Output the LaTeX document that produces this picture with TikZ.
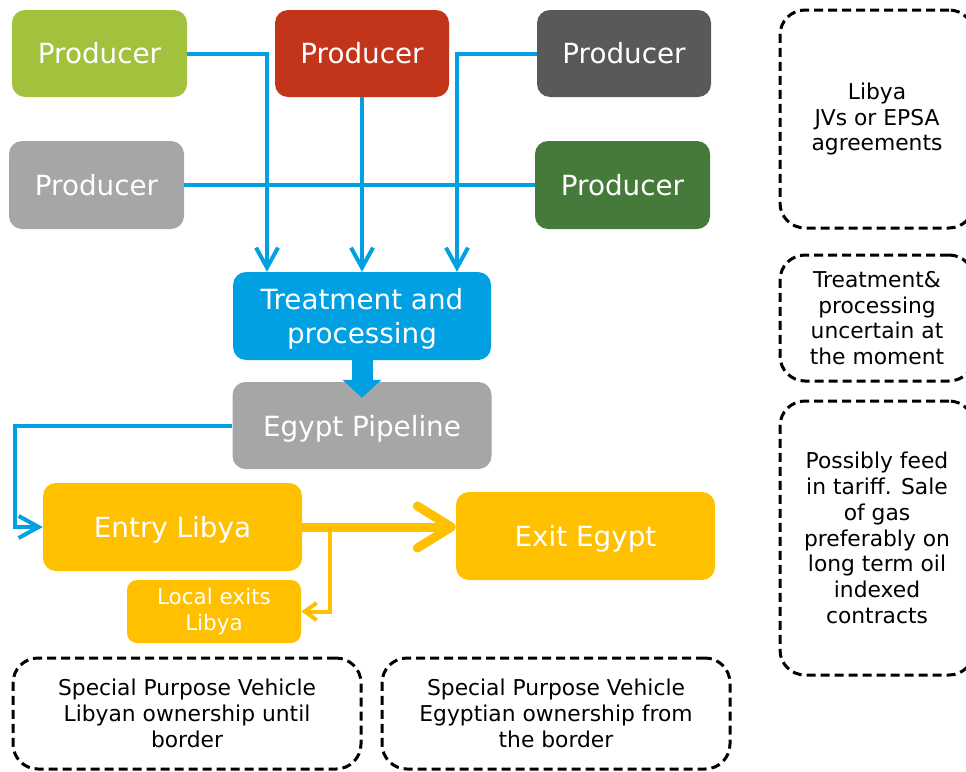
\documentclass[tikz,border=0pt]{standalone}
\usepackage{fontspec}
\setmainfont{DejaVu Sans}
\usetikzlibrary{arrows.meta,calc}

\definecolor{limegreen}{HTML}{A2C13D}
\definecolor{brickred}{HTML}{C3351A}
\definecolor{darkgrey}{HTML}{595959}
\definecolor{lightgrey}{HTML}{A6A6A6}
\definecolor{forestgreen}{HTML}{467A3A}
\definecolor{pipeblue}{HTML}{00A0E3}
\definecolor{amber}{HTML}{FFC000}

\tikzset{
  box/.style={rounded corners=13pt, inner sep=0pt, text=white, align=center,
    font=\fontsize{27.8}{34.5}\selectfont},
  lowtext/.style={text depth=0pt},
  smallbox/.style={box, rounded corners=10pt, font=\fontsize{21.5}{26}\selectfont},
  note/.style={draw=black, line width=3pt, dash pattern=on 9pt off 5pt,
    rounded corners=25pt, inner sep=0pt, align=center,
    font=\fontsize{21.8}{25.8}\selectfont},
  gasline/.style={draw=pipeblue, line width=4pt},
  feed/.style={gasline, -{Straight Barb[length=20pt,width=22pt]}},
  bigflow/.style={draw=pipeblue, line width=21pt,
    -{Triangle[length=18pt,width=38pt]}},
  export/.style={draw=amber, line width=9pt,
    -{Straight Barb[length=34pt,width=42pt,round]}},
  localflow/.style={draw=amber, line width=4pt,
    -{Straight Barb[length=12pt,width=17pt]}},
}

\begin{document}
\begin{tikzpicture}[x=1pt, y=-1pt]
\useasboundingbox (0,0) rectangle (966,771);
\clip (0,0) rectangle (966,771);

% producers
\node[box, fill=limegreen, minimum width=175pt, minimum height=87pt] (p1) at (99.5,53.5) {Producer};
\node[box, fill=brickred, minimum width=174pt, minimum height=87pt] (p2) at (362,53.5) {Producer};
\node[box, fill=darkgrey, minimum width=174pt, minimum height=87pt] (p3) at (624,53.5) {Producer};
\node[box, fill=lightgrey, minimum width=175pt, minimum height=88pt] (p4) at (96.5,185) {Producer};
\node[box, fill=forestgreen, minimum width=175pt, minimum height=88pt] (p5) at (622.5,185) {Producer};

% processing chain
\node[box, lowtext, fill=pipeblue, minimum width=258pt, minimum height=88pt] (treat) at (362,316) {Treatment and\\processing};
\node[box, lowtext, fill=lightgrey, minimum width=259pt, minimum height=87pt] (pipe) at (362,425.5) {Egypt Pipeline};
\node[box, lowtext, fill=amber, minimum width=259pt, minimum height=88pt] (entry) at (172.5,527) {Entry Libya};
\node[box, lowtext, fill=amber, minimum width=259pt, minimum height=88pt] (exit) at (585.5,536) {Exit Egypt};
\node[smallbox, fill=amber, minimum width=174pt, minimum height=63pt] (local) at (214,611.5) {Local exits\\Libya};

% notes
\node[note, minimum width=194pt, minimum height=218pt] (n1) at (877,119) {Libya\\JVs or EPSA\\agreements};
\node[note, minimum width=194pt, minimum height=126pt] (n2) at (877,318) {Treatment\&\\processing\\uncertain at\\the moment};
\node[note, minimum width=194pt, minimum height=274pt] (n3) at (877,538) {Possibly feed\\in tariff. Sale\\of gas\\preferably on\\long term oil\\indexed\\contracts};
\node[note, minimum width=348pt, minimum height=111pt] (n4) at (187,713.5) {Special Purpose Vehicle\\Libyan ownership until\\border};
\node[note, minimum width=348pt, minimum height=111pt] (n5) at (556,713.5) {Special Purpose Vehicle\\Egyptian ownership from\\the border};

% gathering lines
\draw[gasline] (p4.east) -- (p5.west);
\draw[feed] (p1.east) -| ([xshift=-95pt]treat.north);
\draw[feed] (p2.south) -- (treat.north);
\draw[feed] (p3.west) -| ([xshift=95pt]treat.north);

% into the pipeline and on to Libya
\draw[bigflow] (treat.south) -- ([yshift=-16pt]pipe.north);
\draw[feed] (pipe.west) -- ++(-217,0) |- (entry.west);

% export and local offtake
\draw[export] (entry.east) -- (entry.east -| exit.west);
\draw[localflow] ([xshift=28pt]entry.east) |- (local.east);
\end{tikzpicture}
\end{document}
